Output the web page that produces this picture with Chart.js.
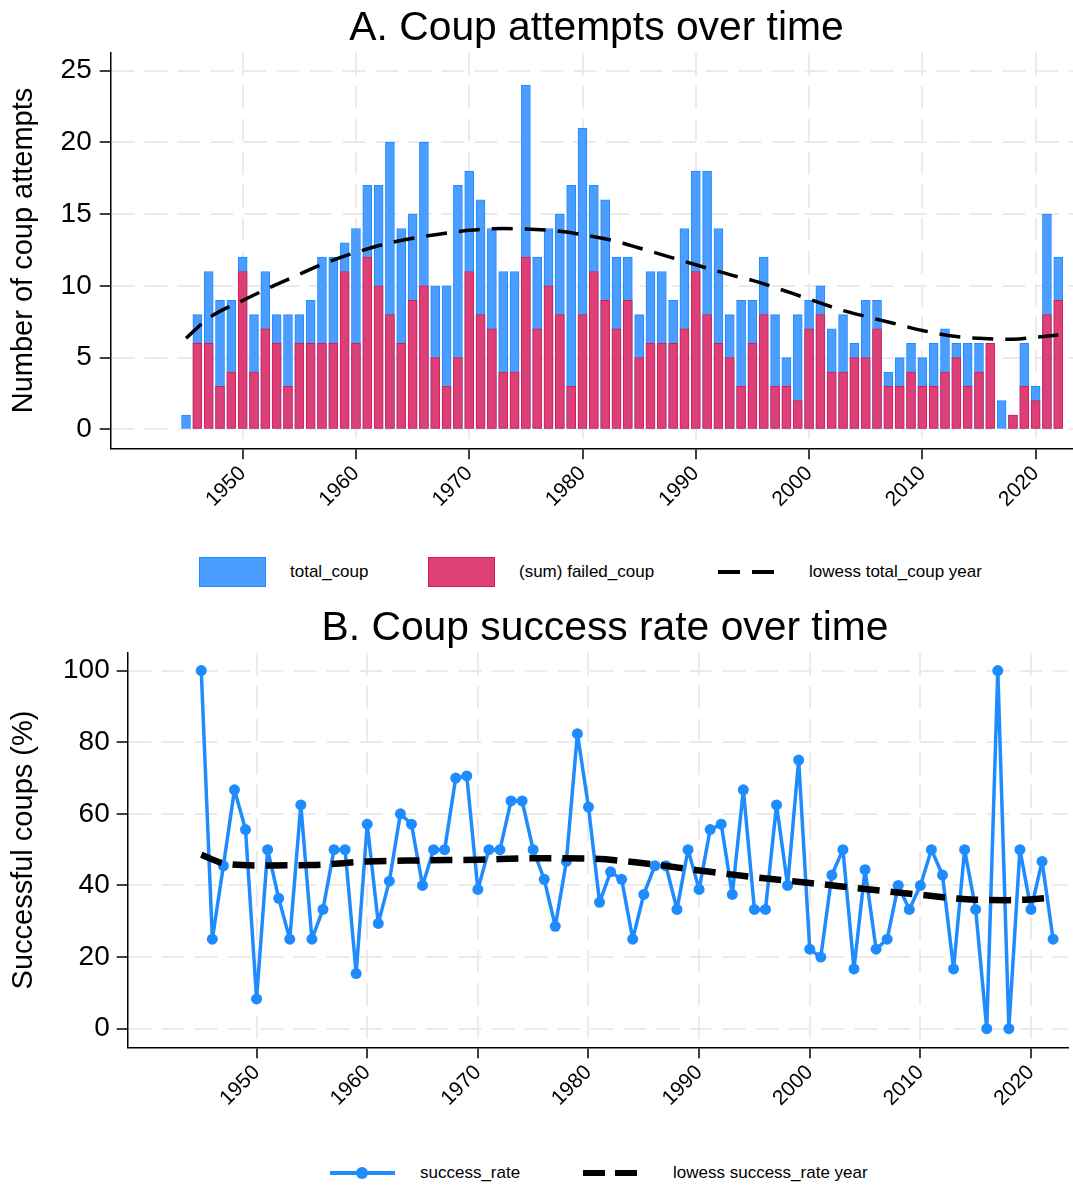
<!DOCTYPE html>
<html>
<head>
<meta charset="utf-8">
<script src="https://cdn.jsdelivr.net/npm/chart.js@4.4.1/dist/chart.umd.min.js"></script>
<style>
  body { margin: 0; background: #fff; font-family: 'Liberation Sans', Arial, sans-serif; color: #000; }
  #page { position: relative; width: 1073px; height: 1186px; overflow: hidden; }
  canvas { position: absolute; left: 0; }
  .title { position: absolute; right: 0; text-align: center; font-size: 40.8px; line-height: 40px; white-space: nowrap; }
  .lg { position: absolute; font-size: 17px; line-height: 20px; white-space: nowrap; }
  .box { position: absolute; box-sizing: border-box; }
  .seg { position: absolute; background: #000; }
</style>
</head>
<body>
<div id="page">
  <canvas id="chartA" width="1073" height="545" style="top:0"></canvas>
  <canvas id="chartB" width="1073" height="545" style="top:600px"></canvas>

  <div class="title" style="left:120px;top:6px">A. Coup attempts over time</div>
  <div class="title" style="left:137px;top:606px">B. Coup success rate over time</div>

  <!-- legend A -->
  <div class="box" style="left:199px;top:557px;width:67px;height:30px;background:#4b9dff;border:1.5px solid #1e8cff"></div>
  <div class="lg" style="left:290px;top:562px">total_coup</div>
  <div class="box" style="left:428px;top:557px;width:67px;height:30px;background:#dc4076;border:1.5px solid #d81b55"></div>
  <div class="lg" style="left:519px;top:562px">(sum) failed_coup</div>
  <div class="seg" style="left:718px;top:570px;width:22px;height:3.5px"></div>
  <div class="seg" style="left:752px;top:570px;width:22px;height:3.5px"></div>
  <div class="lg" style="left:809px;top:562px">lowess total_coup year</div>

  <!-- legend B -->
  <div class="seg" style="left:330px;top:1171px;width:65px;height:3.5px;background:#1e8cff"></div>
  <div class="seg" style="left:356px;top:1167px;width:12px;height:12px;border-radius:6px;background:#1e8cff"></div>
  <div class="lg" style="left:420px;top:1163px">success_rate</div>
  <div class="seg" style="left:583px;top:1169.5px;width:22px;height:6.5px"></div>
  <div class="seg" style="left:615px;top:1169.5px;width:22px;height:6.5px"></div>
  <div class="lg" style="left:673px;top:1163px">lowess success_rate year</div>
</div>

<script>
// coups per year
var years = [1945,1946,1947,1948,1949,1950,1951,1952,1953,1954,
             1955,1956,1957,1958,1959,1960,1961,1962,1963,1964,
             1965,1966,1967,1968,1969,1970,1971,1972,1973,1974,
             1975,1976,1977,1978,1979,1980,1981,1982,1983,1984,
             1985,1986,1987,1988,1989,1990,1991,1992,1993,1994,
             1995,1996,1997,1998,1999,2000,2001,2002,2003,2004,
             2005,2006,2007,2008,2009,2010,2011,2012,2013,2014,
             2015,2016,2017,2018,2019,2020,2021,2022];
var totalCoup = [1,8,11,9,9,12,8,11,8,8,
                 8,9,12,12,13,14,17,17,20,14,
                 15,20,10,10,17,18,16,14,11,11,
                 24,12,14,15,17,21,17,16,12,12,
                 8,11,11,9,14,18,18,14,8,9,
                 9,12,8,5,8,9,10,7,8,6,
                 9,9,4,5,6,5,6,7,6,6,
                 6,6,2,1,6,3,15,12];
var failedCoup = [0,6,6,3,4,11,4,7,6,3,
                  6,6,6,6,11,6,12,10,8,6,
                  9,10,5,3,5,11,8,7,4,4,
                  12,7,10,8,3,8,11,9,7,9,
                  5,6,6,6,7,11,8,6,5,3,
                  6,8,3,3,2,7,8,4,4,5,
                  5,7,3,3,4,3,3,4,5,3,
                  4,6,0,1,3,2,8,9];
var successRate = [100,25,45.5,66.7,55.6,8.3,50,36.4,25,62.5,
                   25,33.3,50,50,15.4,57.1,29.4,41.2,60,57.1,
                   40,50,50,70,70.6,38.9,50,50,63.6,63.6,
                   50,41.7,28.6,46.7,82.4,61.9,35.3,43.8,41.7,25,
                   37.5,45.5,45.5,33.3,50,38.9,55.6,57.1,37.5,66.7,
                   33.3,33.3,62.5,40,75,22.2,20,42.9,50,16.7,
                   44.4,22.2,25,40,33.3,40,50,42.9,16.7,50,
                   33.3,0,100,0,50,33.3,46.7,25];

// lowess curves, sampled off the dashed lines
var lowessTotalYears = [1945,1947,1950,1953,1955,1957,1960,1963,1966,1970,1973,1975,1978,1980,1983,
                        1985,1988,1990,1993,1995,2000,2003,2005,2008,2010,2013,2015,2018,2020,2022];
var lowessTotal = [6.35,7.75,8.98,10.1,10.8,11.5,12.33,13.0,13.45,13.87,13.99,13.97,13.8,13.57,13.1,
                   12.64,11.94,11.47,10.78,10.38,9.08,8.28,7.87,7.28,6.89,6.47,6.35,6.28,6.42,6.58];
var lowessRateYears = [1945,1947,1950,1955,1960,1965,1970,1975,1980,1985,1990,1995,2000,2005,2010,2015,2018,2022];
var lowessRate = [48.6,46.2,45.6,45.7,46.7,47.0,47.2,47.6,47.5,46.2,44.2,42.3,40.7,39.0,37.4,36.0,35.9,36.6];

var xTicks = [1950,1960,1970,1980,1990,2000,2010,2020];
var yTicksA = [0,5,10,15,20,25];
var yTicksB = [0,20,40,60,80,100];

var blueFill = '#4b9dff', blueLine = '#1e8cff', redFill = '#dc4076', redLine = '#d81b55';
var gridCol = '#ebebeb';

Chart.defaults.font.family = "'Liberation Sans', Arial, sans-serif";
Chart.defaults.color = '#000';

function pts(xs, ys) { return xs.map(function (x, i) { return { x: x, y: ys[i] }; }); }

function axis(min, max, vals, extra) {
  return Object.assign({
    type: 'linear', min: min, max: max, offset: false,
    afterBuildTicks: function (s) { s.ticks = vals.map(function (v) { return { value: v }; }); },
    grid: { offset: false, color: gridCol, lineWidth: 2, drawTicks: true, tickLength: 11,
            tickColor: '#000', tickWidth: 1.5, tickBorderDash: [] },
    border: { display: true, color: '#000', width: 1.5, dash: [23, 10] }
  }, extra);
}

function xAxis(h) {
  return axis(1938.35, 2023.3, xTicks, {
    ticks: { font: { size: 21 }, minRotation: 45, maxRotation: 45, autoSkip: false, padding: 2,
             callback: function (v) { return String(v); } },
    afterFit: function (s) { s.height = h; }
  });
}

function yAxis(min, max, vals, w, title, pad) {
  return axis(min, max, vals, {
    ticks: { font: { size: 28 }, padding: pad, callback: function (v) { return String(v); } },
    title: { display: true, text: title, font: { size: 29 }, padding: { top: 7, bottom: 0 } },
    afterFit: function (s) { s.width = w; }
  });
}

var common = {
  responsive: false, animation: false, devicePixelRatio: 1,
  layout: { padding: { top: 52.7, left: 0, right: 0, bottom: 0 } },
  plugins: { legend: { display: false }, tooltip: { enabled: true } }
};

new Chart(document.getElementById('chartA'), {
  type: 'bar',
  data: {
    datasets: [
      { type: 'line', label: 'lowess total_coup year', data: pts(lowessTotalYears, lowessTotal),
        borderColor: '#000', borderWidth: 3.5, borderDash: [21, 12], pointRadius: 0, fill: false,
        cubicInterpolationMode: 'monotone', order: 1 },
      { label: '(sum) failed_coup', data: pts(years, failedCoup), backgroundColor: redFill, borderColor: redLine,
        borderWidth: 1, borderSkipped: false, barThickness: 9, grouped: false, order: 2 },
      { label: 'total_coup', data: pts(years, totalCoup), backgroundColor: blueFill, borderColor: blueLine,
        borderWidth: 1, borderSkipped: false, barThickness: 9, grouped: false, order: 3 }
    ]
  },
  options: Object.assign({}, common, {
    scales: {
      x: xAxis(96.7),
      y: yAxis(-1.32, 26.25, yTicksA, 110.7, 'Number of coup attempts', 8)
    }
  })
});

new Chart(document.getElementById('chartB'), {
  type: 'line',
  data: {
    datasets: [
      { label: 'lowess success_rate year', data: pts(lowessRateYears, lowessRate),
        borderColor: '#000', borderWidth: 6.5, borderDash: [22, 11], pointRadius: 0, fill: false,
        cubicInterpolationMode: 'monotone', order: 1 },
      { label: 'success_rate', data: pts(years, successRate), borderColor: blueLine, backgroundColor: blueLine,
        borderWidth: 3.5, borderJoinStyle: 'round', borderCapStyle: 'round',
        pointRadius: 5.5, pointBorderWidth: 0, pointBackgroundColor: blueLine,
        tension: 0, fill: false, order: 2 }
    ]
  },
  options: Object.assign({}, common, {
    scales: {
      x: xAxis(97.7),
      y: yAxis(-5.2, 105, yTicksB, 127.7, 'Successful coups (%)', 7)
    }
  })
});
</script>
</body>
</html>
